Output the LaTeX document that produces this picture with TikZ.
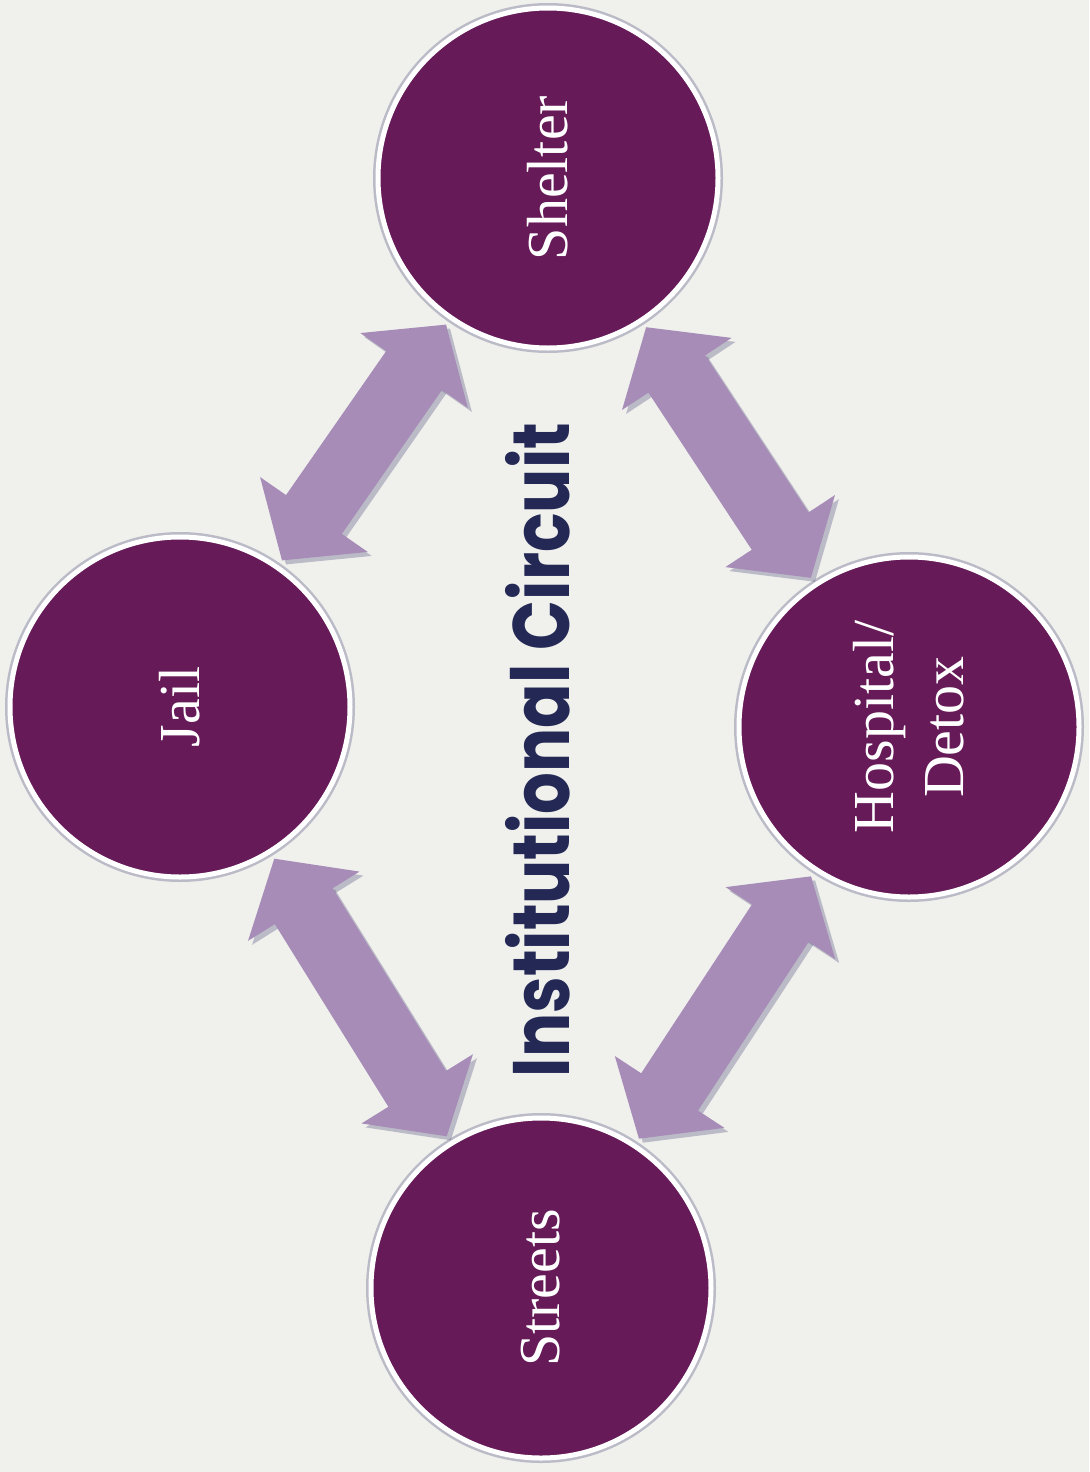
\documentclass[tikz,border=0pt]{standalone}
\usepackage{fontspec}
\setmainfont{Liberation Serif}
\newfontfamily\titlefont{Poppins}
\usetikzlibrary{arrows.meta,positioning}

\definecolor{circfill}{RGB}{102,26,88}
\definecolor{arrowfill}{RGB}{166,140,182}
\definecolor{arrowshade}{RGB}{90,90,130}
\definecolor{titleblue}{RGB}{35,40,85}
\definecolor{paper}{RGB}{240,240,237}

\begin{document}
\begin{tikzpicture}[x=0.5pt, y=0.5pt,
    main/.style = {circle, fill=circfill, draw=white, line width=2.5pt, minimum size=170pt, inner sep=0pt,
        preaction={draw=arrowshade, line width=5pt, opacity=.35},
        text=white, align=center, rotate=90, font=\fontsize{29}{35}\selectfont},
    link/.style = {arrowfill, line width=34pt, shorten <=3pt, shorten >=3pt,
        {Triangle[width=64pt,length=28pt]}-{Triangle[width=64pt,length=28pt]}},
    linkshade/.style = {link, arrowshade, opacity=.35, transform canvas={shift={(2pt,-2pt)}}}]
    \fill[paper] (0,0) rectangle (1089,-1472);
    \useasboundingbox (0,0) rectangle (1089,-1472);
    \node[main] (shelter) at (548,-178) {Shelter};
    \node[main] (jail) at (180,-707) {Jail};
    \node[main] (hospital) at (909,-727) {Hospital/\\Detox};
    \node[main] (streets) at (541,-1288) {Streets};
    % arrows with a soft shadow
    \foreach \a/\b in {jail/shelter, shelter/hospital, jail/streets, streets/hospital} {
        \draw[linkshade] (\a) -- (\b);
        \draw[link] (\a) -- (\b);
    }
    \node[rotate=90, text=titleblue] (title) at (538,-750)
        {\scalebox{0.82}[1]{\titlefont\bfseries\fontsize{40}{40}\selectfont Institutional Circuit}};
\end{tikzpicture}
\end{document}
